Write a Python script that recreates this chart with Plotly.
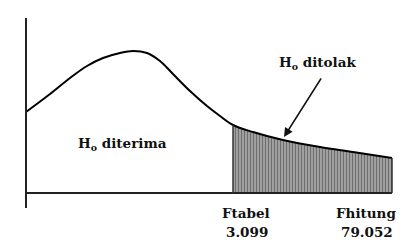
import plotly.graph_objects as go

# curve (x: distance from vertical axis, y: height above baseline)
curve_x = [0, 24, 44, 61, 77, 94, 107, 121, 134, 147, 164, 181, 194, 207, 227, 257, 294, 327, 366]
curve_y = [81, 99, 115, 127, 135, 140, 142, 140, 132, 119, 102, 87, 77, 68, 61, 53, 46, 41, 35]

# rejection region (from Ftabel onward)
tail_x = [207, 227, 257, 294, 327, 366]
tail_y = [68, 61, 53, 46, 41, 35]

FONT = "DejaVu Serif"

fig = go.Figure()
fig.add_trace(go.Scatter(
    x=tail_x + [366, 207], y=tail_y + [0, 0],
    mode="lines", line=dict(width=0),
    fill="toself", fillcolor="rgba(255,255,255,0)",
    fillpattern=dict(shape="|", size=3, solidity=0.5, fgcolor="#2a2a2a", bgcolor="#b0b0b0"),
    hoverinfo="skip",
))
fig.add_trace(go.Scatter(
    x=curve_x, y=curve_y, mode="lines",
    line=dict(color="black", width=2, shape="spline", smoothing=1),
    hoverinfo="skip",
))

# axes
fig.add_shape(type="line", x0=0, x1=0, y0=-15, y1=175, line=dict(color="#222", width=2))
fig.add_shape(type="line", x0=0, x1=366, y0=0, y1=0, line=dict(color="#222", width=2))
fig.add_shape(type="line", x0=207, x1=207, y0=0, y1=68, line=dict(color="#333", width=1.5))
fig.add_shape(type="line", x0=366, x1=366, y0=0, y1=35, line=dict(color="#333", width=1.5))

tf = dict(family=FONT, size=13.5, color="#111")
fig.add_annotation(x=96, y=49, text="<b>H<sub>o</sub> diterima</b>", showarrow=False, font=tf)
fig.add_annotation(x=291, y=130, text="<b>H<sub>o</sub> ditolak</b>", showarrow=False, font=tf)
fig.add_annotation(x=258, y=56, ax=296, ay=116, axref="x", ayref="y",
                   text="", showarrow=True, arrowhead=2, arrowsize=1.2,
                   arrowwidth=1.5, arrowcolor="#111")
fig.add_annotation(x=220, y=-20, text="<b>Ftabel</b>", showarrow=False, font=tf)
fig.add_annotation(x=221, y=-39, text="<b>3.099</b>", showarrow=False, font=tf)
fig.add_annotation(x=340, y=-20, text="<b>Fhitung</b>", showarrow=False, font=tf)
fig.add_annotation(x=341, y=-39, text="<b>79.052</b>", showarrow=False, font=tf)

fig.update_layout(
    width=403, height=242,
    margin=dict(l=0, r=0, t=0, b=0),
    paper_bgcolor="white", plot_bgcolor="white",
    showlegend=False,
    font=dict(family=FONT),
    xaxis=dict(range=[-26, 377], visible=False, fixedrange=True),
    yaxis=dict(range=[-49, 193], visible=False, fixedrange=True),
)
fig.write_html("out.html", config={"displayModeBar": False},
               post_script="document.body.style.margin='0';document.body.style.overflow='hidden';")
